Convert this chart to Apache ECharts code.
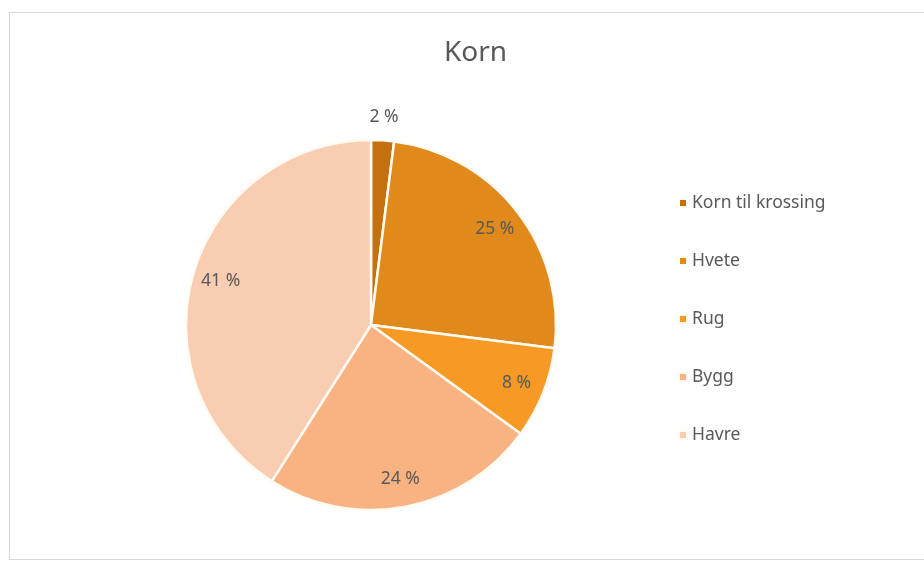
<!DOCTYPE html>
<html>
<head>
<meta charset="utf-8">
<script src="https://cdn.jsdelivr.net/npm/echarts@6/dist/echarts.min.js"></script>
<style>
  html, body { margin: 0; padding: 0; background: #fff; }
  #frame { position: absolute; left: 9px; top: 12px; width: 940px; height: 548px; border: 1px solid #d9d9d9; box-sizing: border-box; }
  #chart { position: absolute; left: 0; top: 0; width: 924px; height: 561px; }
</style>
</head>
<body>
<div id="frame"></div>
<div id="chart"></div>
<script>
const categories = ['Korn til krossing', 'Hvete', 'Rug', 'Bygg', 'Havre'];
const values = [2, 25, 8, 24, 41];
const colors = ['#C4700F', '#DF8A1A', '#F79A25', '#F9B282', '#F9CDB2'];

const FONT = '"Noto Sans", "Open Sans", sans-serif';
const data = categories.map((n, i) => ({ name: n, value: values[i], itemStyle: { color: colors[i] } }));
const center = [371, 325];
const R = 185;

const chart = echarts.init(document.getElementById('chart'), null, { renderer: 'canvas' });
chart.setOption({
  animation: false,
  title: {
    text: 'Korn', left: 439, top: 34,
    textStyle: { fontFamily: FONT, fontSize: 28, fontWeight: 'normal', color: '#595959' }
  },
  legend: {
    orient: 'vertical', left: 673, top: 189, itemGap: 40,
    itemWidth: 8, itemHeight: 8, icon: 'rect',
    data: categories,
    textStyle: { fontFamily: FONT, fontSize: 17.5, lineHeight: 18, color: '#595959' }
  },
  series: [
    {
      type: 'pie', center: center, radius: [0, R], startAngle: 90, clockwise: true,
      data: data,
      itemStyle: { borderColor: '#fffaf2', borderWidth: 2.5 },
      label: { show: false }, labelLine: { show: false },
      emphasis: { disabled: true }
    },
    {
      type: 'pie', center: center, radius: [0.66 * R, R], startAngle: 90, clockwise: true, silent: true,
      data: data.map((d, i) => ({ name: d.name, value: d.value, label: { show: i !== 0 } })),
      itemStyle: { color: 'rgba(0,0,0,0)', borderWidth: 0 },
      label: { show: true, position: 'inside', formatter: '{c} %', fontFamily: FONT, fontSize: 17.5, color: '#595959' },
      labelLine: { show: false },
      emphasis: { disabled: true }
    },
    {
      type: 'pie', center: center, radius: [R, 1.22 * R], startAngle: 90, clockwise: true, silent: true,
      data: data.map((d, i) => ({ name: d.name, value: d.value, label: { show: i === 0 } })),
      itemStyle: { color: 'rgba(0,0,0,0)', borderWidth: 0 },
      label: { show: true, position: 'inside', formatter: '{c} %', fontFamily: FONT, fontSize: 17.5, color: '#595959' },
      labelLine: { show: false },
      emphasis: { disabled: true }
    }
  ]
});
</script>
</body>
</html>
